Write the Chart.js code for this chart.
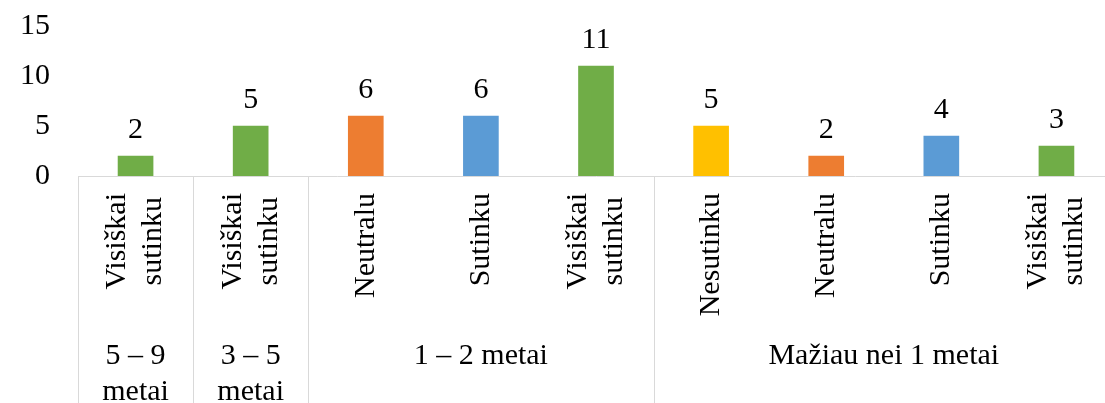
<!DOCTYPE html>
<html>
<head>
<meta charset="utf-8">
<script src="https://cdn.jsdelivr.net/npm/chart.js@4.4.1/dist/chart.umd.min.js"></script>
<style>
  html, body { margin: 0; padding: 0; background: #fff; overflow: hidden; }
  #wrap { width: 1114px; height: 403px; }
</style>
</head>
<body>
<div id="wrap"><canvas id="chart"></canvas></div>
<script>
// answers shown under each bar (line breaks at spaces)
const answers = ['Visiškai sutinku', 'Visiškai sutinku', 'Neutralu', 'Sutinku', 'Visiškai sutinku',
                 'Nesutinku', 'Neutralu', 'Sutinku', 'Visiškai sutinku'];
const counts = [2, 5, 6, 6, 11, 5, 2, 4, 3];
// outer level: work experience groups
const groupLabels = [['5 – 9', 'metai'], ['3 – 5', 'metai'], ['1 – 2 metai'], ['Mažiau nei 1 metai']];
const groupSizes = [1, 1, 3, 4];
const yTicks = [0, 5, 10, 15];

const answerColors = {
    'Visiškai sutinku': '#70ad47',
    'Sutinku': '#5b9bd5',
    'Neutralu': '#ed7d31',
    'Nesutinku': '#ffc000'
};

const FONT = '30px "Liberation Serif", "Times New Roman", serif';
const textColor = '#000';
const lineColor = '#d9d9d9';

const labelsPlugin = {
    id: 'multiLevelLabels',
    afterDraw: function(chart) {
        const { ctx, chartArea } = chart;
        const xs = chart.scales.x;
        const base = chartArea.bottom;
        const catW = (xs.right - xs.left) / answers.length;
        ctx.save();
        ctx.font = FONT;
        ctx.fillStyle = textColor;

        // values above bars
        chart.getDatasetMeta(0).data.forEach((bar, i) => {
            ctx.textAlign = 'center';
            ctx.textBaseline = 'alphabetic';
            ctx.fillText(String(counts[i]), bar.x, bar.y - 18);
        });

        // rotated answer labels
        answers.forEach((lab, i) => {
            const lines = lab.split(' ');
            const cx = xs.getPixelForValue(i);
            const w = Math.max(...lines.map(l => ctx.measureText(l).width));
            ctx.save();
            ctx.translate(cx, base + 17 + w / 2);
            ctx.rotate(-Math.PI / 2);
            ctx.textAlign = 'center';
            ctx.textBaseline = 'middle';
            lines.forEach((l, k) => ctx.fillText(l, 0, (k - (lines.length - 1) / 2) * 36));
            ctx.restore();
        });

        // group labels + separators
        ctx.strokeStyle = lineColor;
        ctx.lineWidth = 1;
        let start = 0;
        groupSizes.forEach((n, g) => {
            const left = xs.getPixelForValue(start) - catW / 2;
            const right = xs.getPixelForValue(start + n - 1) + catW / 2;
            ctx.beginPath();
            ctx.moveTo(Math.round(left) + 0.5, base);
            ctx.lineTo(Math.round(left) + 0.5, chart.height);
            ctx.stroke();
            if (g === groupSizes.length - 1) {
                ctx.beginPath();
                ctx.moveTo(Math.round(right) - 0.5, base);
                ctx.lineTo(Math.round(right) - 0.5, chart.height);
                ctx.stroke();
            }
            ctx.textAlign = 'center';
            ctx.textBaseline = 'middle';
            groupLabels[g].forEach((l, k) => ctx.fillText(l, (left + right) / 2, base + 180 + k * 36));
            start += n;
        });
        ctx.restore();
    }
};

new Chart(document.getElementById('chart'), {
    type: 'bar',
    data: {
        labels: answers,
        datasets: [{
            data: counts,
            backgroundColor: answers.map(a => answerColors[a]),
            borderWidth: 0,
            barThickness: 35
        }]
    },
    options: {
        responsive: true,
        maintainAspectRatio: false,
        animation: false,
        layout: { padding: { top: 26, left: 0, right: 0, bottom: 0 } },
        plugins: {
            legend: { display: false },
            tooltip: { enabled: false }
        },
        scales: {
            x: {
                grid: { display: false, drawTicks: false },
                border: { display: true, color: lineColor, width: 1 },
                ticks: { display: false },
                afterFit: function(scale) { scale.height = 227; }
            },
            y: {
                min: 0,
                max: 15,
                grid: { display: false, drawTicks: false },
                border: { display: false },
                afterBuildTicks: function(scale) { scale.ticks = yTicks.map(v => ({ value: v })); },
                ticks: {
                    padding: 28,
                    color: textColor,
                    font: { family: '"Liberation Serif", "Times New Roman", serif', size: 30 }
                },
                afterFit: function(scale) {
                    scale.width = 78;
                    scale.paddingTop = 0;
                    scale.paddingBottom = 0;
                }
            }
        }
    },
    plugins: [labelsPlugin]
});
</script>
</body>
</html>
